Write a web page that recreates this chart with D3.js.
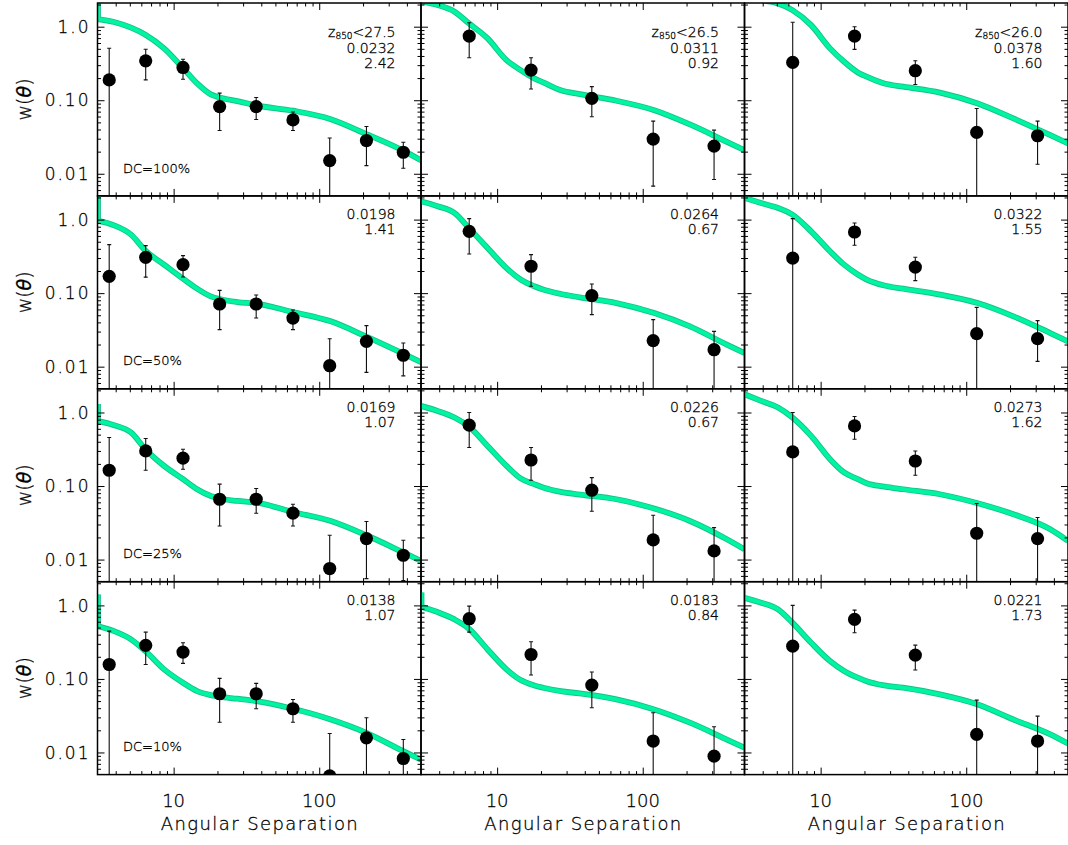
<!DOCTYPE html>
<html><head><meta charset="utf-8">
<script src="https://cdn.jsdelivr.net/npm/d3@7"></script>
<style>body{margin:0;background:#fff}text{font-family:"DejaVu Sans",sans-serif;font-weight:200;fill:#000}text.small{stroke:#000;stroke-width:0.3}</style>
</head><body><svg id="c" width="1068" height="845"></svg>
<script>
// ---------- data ----------
const thetaCol1 = [3.61, 6.43, 11.6, 20.7, 36.9, 66.0, 118, 211, 378];
const thetaCol23 = [6.43, 17.1, 44.7, 118, 309];
const curveTheta = [3.0, 3.9, 5.1, 6.4, 8.6, 11.6, 14.5, 18.0, 20.7, 27.4, 36.9, 66.0, 120, 211, 378, 500];

const w_r1c1 = [0.189, 0.343, 0.279, 0.082, 0.082, 0.054, 0.0151, 0.0283, 0.0196];
const hi_r1c1 = [0.51, 0.494, 0.361, 0.125, 0.109, 0.0693, 0.0307, 0.0439, 0.0268];
const lo_r1c1 = [0.001, 0.189, 0.193, 0.0387, 0.0546, 0.0387, 0.001, 0.0129, 0.0119];
const curve_r1c1 = [1.27, 1.16, 0.97, 0.778, 0.507, 0.273, 0.169, 0.12, 0.109, 0.0973, 0.085, 0.072, 0.0553, 0.0346, 0.0206, 0.0152];

const w_r2c1 = [0.169, 0.307, 0.244, 0.0711, 0.0711, 0.0458, 0.0103, 0.0221, 0.0143];
const hi_r2c1 = [0.457, 0.443, 0.324, 0.109, 0.0942, 0.0589, 0.024, 0.0361, 0.021];
const lo_r2c1 = [0.001, 0.165, 0.166, 0.0319, 0.0458, 0.0319, 0.001, 0.00836, 0.0075];
const curve_r2c1 = [0.97, 0.836, 0.625, 0.379, 0.244, 0.157, 0.115, 0.0905, 0.0832, 0.0757, 0.072, 0.0553, 0.0413, 0.0256, 0.015, 0.0115];

const w_r3c1 = [0.164, 0.30, 0.239, 0.0661, 0.0661, 0.0427, 0.00755, 0.0193, 0.01145];
const hi_r3c1 = [0.457, 0.443, 0.317, 0.106, 0.0925, 0.0565, 0.0214, 0.0329, 0.0183];
const lo_r3c1 = [0.001, 0.164, 0.169, 0.0286, 0.0427, 0.0286, 0.001, 0.0055, 0.0052];
const curve_r3c1 = [0.769, 0.672, 0.535, 0.317, 0.188, 0.124, 0.0905, 0.0733, 0.0676, 0.0627, 0.0597, 0.0444, 0.0335, 0.0214, 0.0125, 0.0096];

const w_r4c1 = [0.157, 0.286, 0.232, 0.0629, 0.0629, 0.0393, 0.0048, 0.0158, 0.00828];
const hi_r4c1 = [0.447, 0.433, 0.311, 0.1016, 0.0869, 0.0526, 0.0181, 0.0297, 0.015];
const lo_r4c1 = [0.001, 0.157, 0.163, 0.0258, 0.0393, 0.0258, 0.001, 0.001, 0.001];
const curve_r4c1 = [0.523, 0.447, 0.345, 0.239, 0.135, 0.0887, 0.0683, 0.0602, 0.0573, 0.0538, 0.0499, 0.0393, 0.0281, 0.0185, 0.0104, 0.008];

const w_r1c2 = [0.745, 0.257, 0.106, 0.0296, 0.0238];
const hi_r1c2 = [1.13, 0.379, 0.153, 0.052, 0.0392];
const lo_r1c2 = [0.379, 0.142, 0.0597, 0.00678, 0.00836];
const curve_r1c2 = [2.19, 1.97, 1.60, 1.11, 0.693, 0.351, 0.257, 0.198, 0.175, 0.137, 0.121, 0.0984, 0.0733, 0.0469, 0.0272, 0.0209];

const w_r2c2 = [0.693, 0.232, 0.0925, 0.0226, 0.017];
const hi_r2c2 = [1.03, 0.334, 0.133, 0.0436, 0.0302];
const lo_r2c2 = [0.34, 0.124, 0.051, 0.001, 0.001];
const curve_r2c2 = [1.77, 1.52, 1.23, 0.769, 0.411, 0.219, 0.153, 0.124, 0.112, 0.0973, 0.0877, 0.0733, 0.0536, 0.0353, 0.0199, 0.0153];

const w_r3c2 = [0.672, 0.226, 0.0877, 0.0185, 0.0131];
const hi_r3c2 = [1.0, 0.334, 0.130, 0.0401, 0.0272];
const lo_r3c2 = [0.334, 0.12, 0.0454, 0.001, 0.001];
const curve_r3c2 = [1.23, 1.05, 0.855, 0.645, 0.351, 0.188, 0.127, 0.106, 0.0955, 0.0832, 0.0766, 0.0661, 0.0494, 0.0335, 0.0189, 0.0138];

const w_r4c2 = [0.659, 0.215, 0.0824, 0.0143, 0.0089];
const hi_r4c2 = [0.978, 0.321, 0.124, 0.0347, 0.0224];
const lo_r4c2 = [0.433, 0.113, 0.0406, 0.001, 0.001];
const curve_r4c2 = [0.96, 0.811, 0.645, 0.482, 0.252, 0.135, 0.0964, 0.0816, 0.0759, 0.0682, 0.0635, 0.0526, 0.0385, 0.0254, 0.015, 0.0116];

const w_r1c3 = [0.327, 0.745, 0.252, 0.0365, 0.0329];
const hi_r1c3 = [1.15, 1.0, 0.345, 0.0773, 0.052];
const lo_r1c3 = [0.001, 0.491, 0.164, 0.001, 0.0135];
const curve_r1c3 = [2.56, 2.30, 2.07, 1.68, 1.05, 0.507, 0.334, 0.239, 0.209, 0.169, 0.153, 0.127, 0.0904, 0.0565, 0.0335, 0.0258];

const w_r2c3 = [0.30, 0.678, 0.226, 0.0281, 0.024];
const hi_r2c3 = [1.03, 0.899, 0.307, 0.0641, 0.0423];
const lo_r2c3 = [0.001, 0.447, 0.148, 0.001, 0.0118];
const curve_r2c3 = [1.97, 1.68, 1.44, 1.17, 0.693, 0.371, 0.244, 0.179, 0.153, 0.127, 0.115, 0.0955, 0.0733, 0.0483, 0.0286, 0.0221];

const w_r3c3 = [0.291, 0.657, 0.219, 0.0228, 0.0193];
const hi_r3c3 = [1.0, 0.883, 0.30, 0.0578, 0.0373];
const lo_r3c3 = [0.001, 0.433, 0.140, 0.001, 0.001];
const curve_r3c3 = [1.77, 1.44, 1.17, 0.855, 0.481, 0.232, 0.153, 0.124, 0.109, 0.0984, 0.0904, 0.0773, 0.0583, 0.0413, 0.0258, 0.0179];

const w_r4c3 = [0.279, 0.645, 0.211, 0.0176, 0.0143];
const hi_r4c3 = [1.0, 0.863, 0.288, 0.0515, 0.0312];
const lo_r4c3 = [0.001, 0.425, 0.132, 0.001, 0.001];
const curve_r4c3 = [1.27, 1.09, 0.883, 0.582, 0.311, 0.175, 0.128, 0.104, 0.0933, 0.0816, 0.0759, 0.0615, 0.045, 0.0281, 0.0176, 0.0132];

// value of the model at its first point (short vertical rise at the left edge)
const hookValues = [[2.3, null, null], [2.3, null, null], [1.30, null, null], [1.41, 1.5, null]];

const magLimits = ["27.5", "26.5", "26.0"];
const ampLabels = [["0.0232", "0.0311", "0.0378"], ["0.0198", "0.0264", "0.0322"], ["0.0169", "0.0226", "0.0273"], ["0.0138", "0.0183", "0.0221"]];
const slopeLabels = [["2.42", "0.92", "1.60"], ["1.41", "0.67", "1.55"], ["1.07", "0.67", "1.62"], ["1.07", "0.84", "1.73"]];
const dcLabels = ["DC=100%", "DC=50%", "DC=25%", "DC=10%"];

const xMajor = [10, 100];
const xMinor = [4, 5, 6, 7, 8, 9, 20, 30, 40, 50, 60, 70, 80, 90, 200, 300, 400];
const yMajor = [0.01, 0.1, 1];
const yMajorLabels = ["0.01", "0.10", "1.0"];
const yMinor = [0.006, 0.007, 0.008, 0.009, 0.02, 0.03, 0.04, 0.05, 0.06, 0.07, 0.08, 0.09, 0.2, 0.3, 0.4, 0.5, 0.6, 0.7, 0.8, 0.9, 2];
const xDomain = [3, 500];
const yDomain = [0.005, 2.1];

const panelData = [
  [[w_r1c1, hi_r1c1, lo_r1c1, curve_r1c1], [w_r1c2, hi_r1c2, lo_r1c2, curve_r1c2], [w_r1c3, hi_r1c3, lo_r1c3, curve_r1c3]],
  [[w_r2c1, hi_r2c1, lo_r2c1, curve_r2c1], [w_r2c2, hi_r2c2, lo_r2c2, curve_r2c2], [w_r2c3, hi_r2c3, lo_r2c3, curve_r2c3]],
  [[w_r3c1, hi_r3c1, lo_r3c1, curve_r3c1], [w_r3c2, hi_r3c2, lo_r3c2, curve_r3c2], [w_r3c3, hi_r3c3, lo_r3c3, curve_r3c3]],
  [[w_r4c1, hi_r4c1, lo_r4c1, curve_r4c1], [w_r4c2, hi_r4c2, lo_r4c2, curve_r4c2], [w_r4c3, hi_r4c3, lo_r4c3, curve_r4c3]]
];

// ---------- layout ----------
const left0 = 97.5, pw = 323.5, top0 = 3, ph = 192.9;
const svg = d3.select("#c");
const x = d3.scaleLog().domain(xDomain).range([0, pw]);
const y = d3.scaleLog().domain(yDomain).range([ph, 0]);
const line = d3.line().x(d => x(d[0])).y(d => y(d[1])).curve(d3.curveMonotoneX);

const defs = svg.append("defs");
defs.append("clipPath").attr("id", "pclip").append("rect").attr("x", 0).attr("y", 0).attr("width", pw).attr("height", ph);

for (let r = 0; r < 4; r++) {
  for (let c = 0; c < 3; c++) {
    const [wv, hv, lv, cv] = panelData[r][c];
    const thetas = c === 0 ? thetaCol1 : thetaCol23;
    const g = svg.append("g").attr("transform", `translate(${left0 + c * pw},${top0 + r * ph})`);
    const inner = g.append("g").attr("clip-path", "url(#pclip)");

    // model band
    const cdata = curveTheta.map((t, i) => [t, cv[i]]);
    const hook = hookValues[r][c];
    const drawBand = (sw, col) => {
      inner.append("path").attr("d", line(cdata)).attr("fill", "none").attr("stroke", col).attr("stroke-width", sw);
      if (hook !== null) {
        inner.append("line").attr("x1", x(curveTheta[0])).attr("x2", x(curveTheta[0]))
          .attr("y1", y(hook)).attr("y2", y(cv[0])).attr("stroke", col).attr("stroke-width", sw + 1);
      }
    };
    drawBand(5.8, "#18c08a");
    drawBand(4.0, "#00f5a0");

    // error bars
    thetas.forEach((t, i) => {
      const px = x(t);
      inner.append("line").attr("x1", px).attr("x2", px).attr("y1", y(hv[i])).attr("y2", y(lv[i]))
        .attr("stroke", "#111").attr("stroke-width", 1.1);
      inner.append("line").attr("x1", px - 2).attr("x2", px + 2).attr("y1", y(hv[i])).attr("y2", y(hv[i]))
        .attr("stroke", "#111").attr("stroke-width", 1.1);
      if (lv[i] > yDomain[0]) {
        inner.append("line").attr("x1", px - 2).attr("x2", px + 2).attr("y1", y(lv[i])).attr("y2", y(lv[i]))
          .attr("stroke", "#111").attr("stroke-width", 1.1);
      }
    });
    // points
    inner.selectAll("circle.pt").data(thetas.map((t, i) => [t, wv[i]])).enter().append("circle")
      .attr("cx", d => x(d[0])).attr("cy", d => y(d[1])).attr("r", 6.6).attr("fill", "#000");

    // axes ticks (inward) on all four sides
    const tickStyle = s => s.call(a => a.select(".domain").remove()).selectAll("line").attr("stroke", "#000").attr("stroke-width", 1);
    g.append("g").attr("transform", `translate(0,${ph})`).call(d3.axisBottom(x).tickValues(xMajor).tickSize(-7).tickFormat("")).call(tickStyle);
    g.append("g").attr("transform", `translate(0,${ph})`).call(d3.axisBottom(x).tickValues(xMinor).tickSize(-3.5).tickFormat("")).call(tickStyle);
    g.append("g").call(d3.axisTop(x).tickValues(xMajor).tickSize(-7).tickFormat("")).call(tickStyle);
    g.append("g").call(d3.axisTop(x).tickValues(xMinor).tickSize(-3.5).tickFormat("")).call(tickStyle);
    g.append("g").call(d3.axisLeft(y).tickValues(yMajor).tickSize(-7).tickFormat("")).call(tickStyle);
    g.append("g").call(d3.axisLeft(y).tickValues(yMinor).tickSize(-3.5).tickFormat("")).call(tickStyle);
    g.append("g").attr("transform", `translate(${pw},0)`).call(d3.axisRight(y).tickValues(yMajor).tickSize(-7).tickFormat("")).call(tickStyle);
    g.append("g").attr("transform", `translate(${pw},0)`).call(d3.axisRight(y).tickValues(yMinor).tickSize(-3.5).tickFormat("")).call(tickStyle);

    // frame
    g.append("rect").attr("x", 0).attr("y", 0).attr("width", pw).attr("height", ph)
      .attr("fill", "none").attr("stroke", "#000").attr("stroke-width", 1.5);

    // annotation text (top-right)
    const tx = 298;
    let b1 = 23;
    if (r === 0) {
      const t0 = g.append("text").attr("class", "small").attr("x", tx).attr("y", 33.5).attr("text-anchor", "end").attr("font-size", 14);
      t0.append("tspan").text("z");
      t0.append("tspan").attr("font-size", 9).attr("dy", 2.5).text("850");
      t0.append("tspan").attr("dy", -2.5).text("<" + magLimits[c]);
      b1 = 49.5;
    }
    g.append("text").attr("class", "small").attr("x", tx).attr("y", b1).attr("text-anchor", "end").attr("font-size", 14).text(ampLabels[r][c]);
    g.append("text").attr("class", "small").attr("x", tx).attr("y", b1 + 15.5).attr("text-anchor", "end").attr("font-size", 14).text(slopeLabels[r][c]);

    if (c === 0) {
      g.append("text").attr("class", "small").attr("x", 25.5).attr("y", 169.5).attr("font-size", 13).text(dcLabels[r]);
      // y tick labels
      yMajor.forEach((v, i) => {
        g.append("text").attr("class", "small").attr("x", -9 + 2).attr("y", y(v)).attr("dy", "0.36em").attr("text-anchor", "end")
          .attr("font-size", 17).attr("letter-spacing", 2).text(yMajorLabels[i]);
      });
      // y axis title
      const yt = g.append("text").attr("class", "small").attr("transform", `translate(-67,${ph / 2}) rotate(-90)`).attr("text-anchor", "middle").attr("font-size", 19);
      yt.append("tspan").text("w(");
      yt.append("tspan").attr("font-style", "italic").text("θ");
      yt.append("tspan").text(")");
    }
    if (r === 3) {
      xMajor.forEach(v => {
        g.append("text").attr("class", "small").attr("x", x(v)).attr("y", ph + 32).attr("text-anchor", "middle").attr("font-size", 18).text(String(v));
      });
      g.append("text").attr("class", "small").attr("x", pw / 2).attr("y", ph + 55.5).attr("text-anchor", "middle").attr("font-size", 18)
        .attr("textLength", 197).attr("lengthAdjust", "spacing").text("Angular Separation");
    }
  }
}
</script></body></html>
